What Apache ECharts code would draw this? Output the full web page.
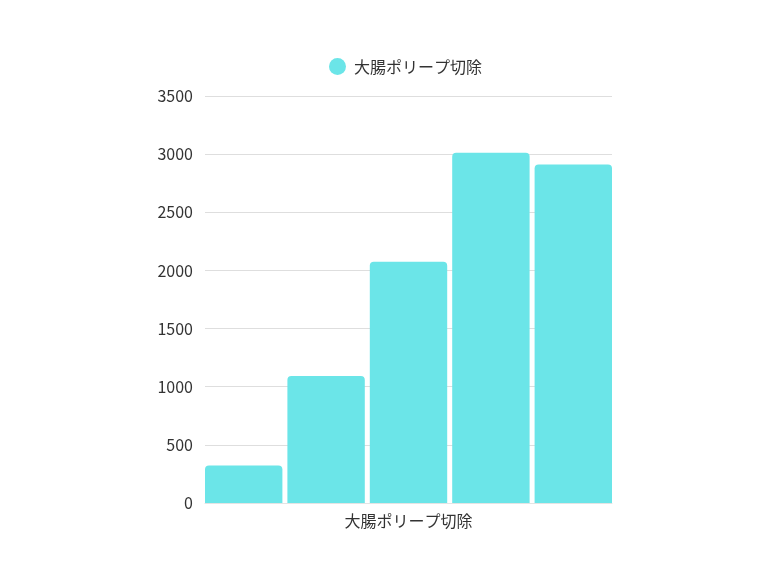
<!DOCTYPE html>
<html><head><meta charset="utf-8">
<script src="https://cdn.jsdelivr.net/npm/echarts@6/dist/echarts.min.js"></script>
<style>html,body{margin:0;padding:0;background:#fff}#c{width:770px;height:578px}</style>
</head><body><div id="c"></div>
<script>
const seriesName = '大腸ポリープ切除';
const axisTitle = '大腸ポリープ切除';
const categories = ['1', '2', '3', '4', '5'];
const values = [322, 1092, 2075, 3012, 2912];
const yTicks = { min: 0, max: 3500, interval: 500 };

const font = '"Noto Sans CJK JP", "Noto Sans", sans-serif';
const chart = echarts.init(document.getElementById('c'), null, { renderer: 'canvas' });
chart.setOption({
  animation: false,
  textStyle: { fontFamily: font },
  legend: {
    top: 53, left: 324,
    icon: 'circle', itemWidth: 17, itemHeight: 17, itemGap: 10,
    textStyle: { fontSize: 16, color: '#333', fontFamily: font, padding: [0, 0, 0, 3] },
    data: [seriesName]
  },
  grid: [
    { left: 205, right: 158, top: 96, bottom: 75, containLabel: false },
    { left: 202.5, right: 155.5, top: 96, bottom: 75, containLabel: false }
  ],
  xAxis: [{
    gridIndex: 0, type: 'category', data: categories,
    name: axisTitle, nameLocation: 'middle', nameGap: 10,
    nameTextStyle: { fontSize: 16, color: '#333', fontFamily: font },
    axisLine: { show: true, lineStyle: { color: '#e4e4e4' } },
    axisTick: { show: false }, axisLabel: { show: false }
  }, {
    gridIndex: 1, type: 'category', data: categories,
    axisLine: { show: false }, axisTick: { show: false }, axisLabel: { show: false }
  }],
  yAxis: [{
    gridIndex: 0, type: 'value', min: yTicks.min, max: yTicks.max, interval: yTicks.interval,
    axisLine: { show: false }, axisTick: { show: false },
    axisLabel: { fontSize: 16, color: '#333', margin: 12, fontFamily: font, formatter: v => String(v) },
    splitLine: { lineStyle: { color: '#dedede', width: 1 } }
  }, {
    gridIndex: 1, type: 'value', min: yTicks.min, max: yTicks.max, interval: yTicks.interval,
    axisLine: { show: false }, axisTick: { show: false }, axisLabel: { show: false },
    splitLine: { show: false }
  }],
  series: [{
    name: seriesName, type: 'bar', data: values,
    xAxisIndex: 1, yAxisIndex: 1,
    barWidth: 77.4,
    itemStyle: { color: '#6be5e8', borderRadius: [4, 4, 0, 0] }
  }]
});
</script></body></html>
